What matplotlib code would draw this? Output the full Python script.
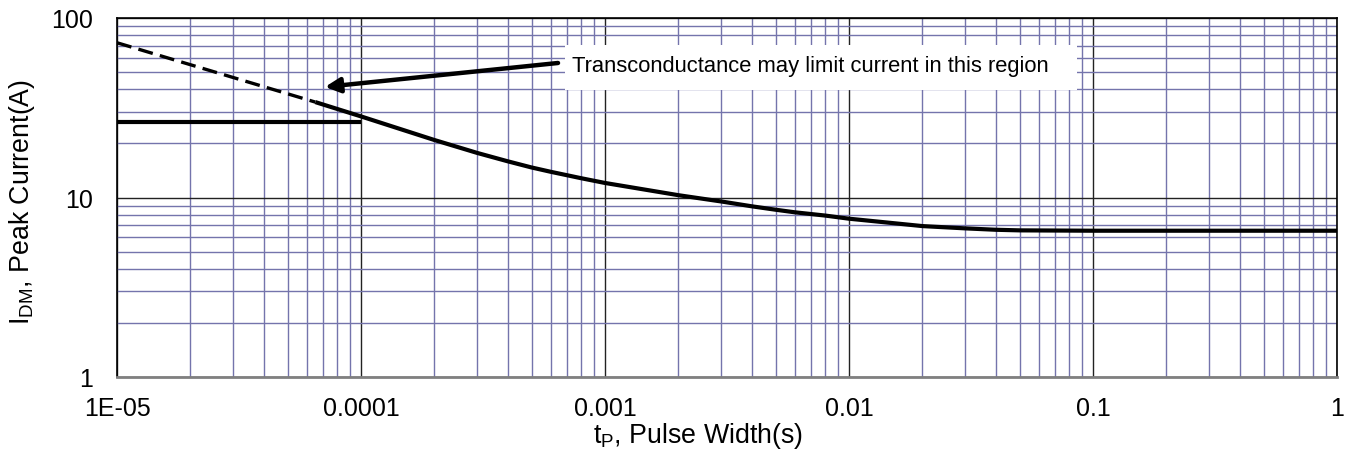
import numpy as np
import matplotlib
matplotlib.use("Agg")
import matplotlib.pyplot as plt
from matplotlib.patches import Rectangle
from matplotlib.ticker import LogLocator, FixedLocator, FixedFormatter, NullFormatter

plt.rcParams['font.family'] = ['Liberation Sans', 'DejaVu Sans']
plt.rcParams['mathtext.default'] = 'regular'

# pulse width (s) / peak current (A)
t_dashed = [1e-5, 6.5e-5]
i_dashed = [72.8, 34.0]

t_curve = [6.5e-5, 1e-4, 2e-4, 3e-4, 4e-4, 5e-4, 6e-4, 7e-4, 8e-4, 1e-3,
           2e-3, 3e-3, 4e-3, 5e-3, 6e-3, 8e-3, 1e-2, 2e-2, 3e-2, 4e-2, 5e-2,
           1e-1, 1.0]
i_curve = [34.0, 28.3, 20.9, 17.7, 15.9, 14.7, 13.9, 13.3, 12.8, 12.05,
           10.3, 9.5, 8.93, 8.55, 8.27, 7.93, 7.62, 6.93, 6.73, 6.61, 6.56,
           6.53, 6.53]

t_limit = [1e-5, 1e-4]
i_limit = [26.2, 26.2]

x_ticks = [1e-5, 1e-4, 1e-3, 1e-2, 1e-1, 1]
x_labels = ["1E-05", "0.0001", "0.001", "0.01", "0.1", "1"]
y_ticks = [1, 10, 100]
y_labels = ["1", "10", "100"]

note = "Transconductance may limit current in this region"

grid_blue = '#7474ac'


def main():
    fig = plt.figure(figsize=(13.55, 4.52), dpi=100)
    ax = fig.add_axes([117 / 1355, 1 - 378 / 452, 1220 / 1355, 359 / 452])
    ax.set_xscale('log')
    ax.set_yscale('log')
    ax.set_xlim(1e-5, 1)
    ax.set_ylim(1, 100)

    ax.xaxis.set_major_locator(FixedLocator(x_ticks))
    ax.xaxis.set_major_formatter(FixedFormatter(x_labels))
    ax.yaxis.set_major_locator(FixedLocator(y_ticks))
    ax.yaxis.set_major_formatter(FixedFormatter(y_labels))
    ax.xaxis.set_minor_locator(LogLocator(base=10, subs=np.arange(2, 10)))
    ax.yaxis.set_minor_locator(LogLocator(base=10, subs=np.arange(2, 10)))
    ax.xaxis.set_minor_formatter(NullFormatter())
    ax.yaxis.set_minor_formatter(NullFormatter())

    ax.grid(which='minor', color=grid_blue, lw=1.0, zorder=0)
    ax.grid(which='major', color='#222222', lw=1.0, zorder=0)
    ax.set_axisbelow(True)
    ax.tick_params(which='both', length=0, labelsize=18)
    ax.tick_params(axis='x', pad=14)
    ax.tick_params(axis='y', pad=17)

    for side in ['left', 'top', 'right']:
        ax.spines[side].set_color('black')
        ax.spines[side].set_linewidth(1.2)
    ax.spines['bottom'].set_color('#808080')
    ax.spines['bottom'].set_linewidth(2)

    # white box behind the note
    ax.add_patch(Rectangle((0.367, 0.799), 0.42, 0.126, transform=ax.transAxes,
                           facecolor='white', edgecolor='none', zorder=2))
    ax.text(0.373, 0.853, note, transform=ax.transAxes, fontsize=15.8,
            va='baseline', ha='left', zorder=3)
    ax.annotate('', xy=(0.1705, 0.808), xytext=(0.3615, 0.8747),
                xycoords='axes fraction', textcoords='axes fraction',
                arrowprops=dict(arrowstyle='-|>', lw=3.2, color='black',
                                mutation_scale=22, shrinkA=0, shrinkB=0),
                zorder=4)

    ax.plot(t_dashed, i_dashed, color='black', lw=2.4, ls=(0, (4.5, 2.2)), zorder=5)
    ax.plot(t_curve, i_curve, color='black', lw=3, zorder=5,
            solid_capstyle='butt', solid_joinstyle='round')
    ax.plot(t_limit, i_limit, color='black', lw=3, zorder=5,
            solid_capstyle='butt')

    fig.text(22 / 1355, 1 - 202 / 452, '$I_{DM}$, Peak Current(A)', fontsize=19.3,
             rotation=90, ha='center', va='center')
    fig.text(698 / 1355, 1 - 436 / 452, '$t_{P}$, Pulse Width(s)', fontsize=19.3,
             ha='center', va='center')

    fig.savefig('out.png', dpi=100)


if __name__ == "__main__":
    main()
